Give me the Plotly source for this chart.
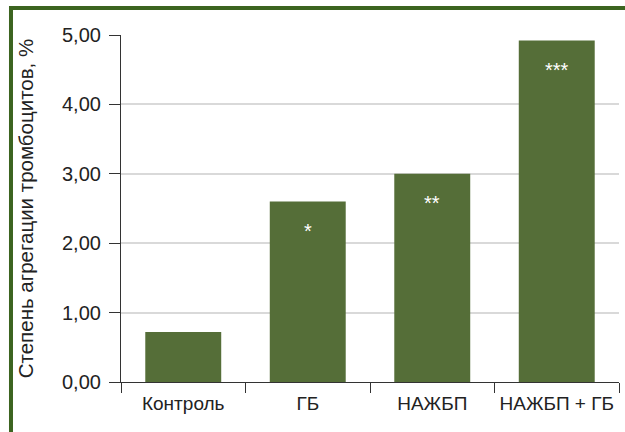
import plotly.graph_objects as go

categories = ["Контроль", "ГБ", "НАЖБП", "НАЖБП + ГБ"]
values = [0.72, 2.60, 3.00, 4.92]
marks = ["", "*", "**", "***"]
y_ticks = [0, 1, 2, 3, 4, 5]
y_tick_labels = ["0,00", "1,00", "2,00", "3,00", "4,00", "5,00"]
y_title = "Степень агрегации тромбоцитов, %"

BAR = "#556E38"
FONT = "Liberation Sans, Arial, sans-serif"

fig = go.Figure()
fig.add_trace(go.Bar(x=categories, y=values, marker=dict(color=BAR, line=dict(width=0)),
                     width=0.61, hoverinfo="skip"))

for c, v, m in zip(categories, values, marks):
    if m:
        fig.add_annotation(x=c, y=v, text=m, showarrow=False, yanchor="middle",
                           yshift=-29, font=dict(family=FONT, size=20, color="white"))

fig.add_shape(type="rect", xref="paper", yref="paper", x0=-0.2209, x1=1.2, y0=-0.4, y1=1.0778,
              line=dict(color="#3C6420", width=4), fillcolor="rgba(0,0,0,0)", layer="above")

fig.update_layout(
    width=625, height=432,
    margin=dict(l=121, r=6, t=35, b=50, autoexpand=False),
    paper_bgcolor="white", plot_bgcolor="white",
    showlegend=False,
    font=dict(family=FONT, size=20, color="#222222"),
    xaxis=dict(type="category", tickson="boundaries", ticks="outside", ticklen=10,
               tickcolor="#333333", showline=True, linecolor="#333333", linewidth=1.2,
               showgrid=False, tickfont=dict(size=19), range=[-0.5, 3.5],
               tickangle=0, automargin=False, ticklabelstandoff=4),
    yaxis=dict(range=[0, 5], tickvals=y_ticks, ticktext=y_tick_labels, ticks="outside",
               ticklen=11, tickcolor="#333333", showline=True, linecolor="#333333",
               linewidth=1.2, showgrid=True, gridcolor="#D9D9D9", gridwidth=1.5,
               zeroline=False, tickfont=dict(size=20), ticklabelstandoff=4, automargin=False,
               title=dict(text=y_title, font=dict(size=20.5), standoff=22)),
)

fig.write_html("out.html", config={"displayModeBar": False},
               post_script="document.body.style.margin='0';document.body.style.overflow='hidden';")
